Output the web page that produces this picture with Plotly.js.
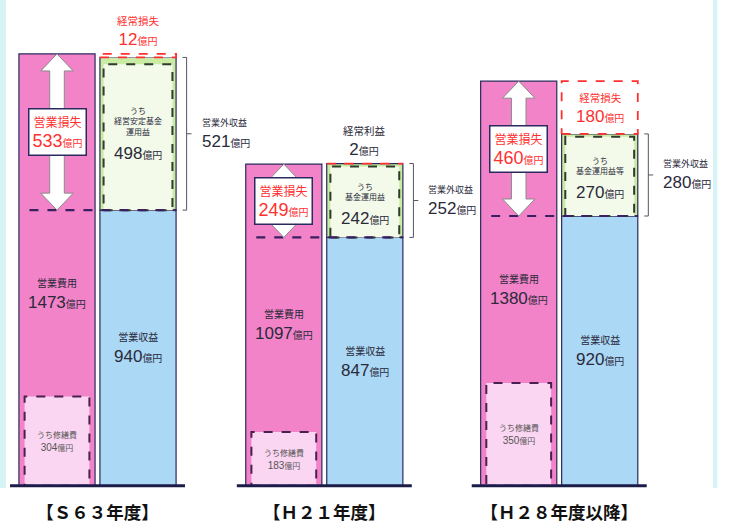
<!DOCTYPE html>
<html>
<head>
<meta charset="utf-8">
<script src="https://cdn.plot.ly/plotly-3.0.1.min.js"></script>
<style>html,body{margin:0;padding:0;background:#fff;}#chart{width:729px;height:524px;}</style>
</head>
<body>
<div id="chart"></div>
<script>
// ---- data (億円) ----
const categories = ['【Ｓ６３年度】', '【Ｈ２１年度】', '【Ｈ２８年度以降】'];
const opExpense = [1473, 1097, 1380];      // 営業費用
const repairCost = [304, 183, 350];        // うち修繕費
const opRevenue = [940, 847, 920];         // 営業収益
const nonOpIncome = [521, 252, 280];       // 営業外収益
const fundIncome = [498, 242, 270];        // うち基金運用益
const fundLabels = ['うち<br>経営安定基金<br>運用益', 'うち<br>基金運用益', 'うち<br>基金運用益等'];
const opLoss = [533, 249, 460];            // 営業損失
const ordinaryResult = [-12, 2, -180];     // 経常損益

// ---- layout helpers ----
const groupStart = [0, 2.8, 5.7];
const pinkX = groupStart.map(g => g);
const blueX = groupStart.map(g => g + 1);
const centers = groupStart.map(g => g + 0.5);
const BW = 0.94;

const C = {
  pink: '#f283c8', lpink: '#fbd6f2', blue: '#aad8f5', green: '#c9eba4',
  fund: '#f4faea', navy: '#2a2a5e', red: '#ff3030', text: '#2a2a3a'
};
const NUM = "font-family:'Liberation Sans Narrow','Liberation Sans',sans-serif;";
function num(v, size, small) {
  return `<span style="${NUM}font-size:${size}px">${v}</span><span style="font-size:${small}px">億円</span>`;
}
function sm(t, size) { return `<span style="font-size:${size}px">${t}</span>`; }
function rect(x0, x1, y0, y1) {
  return {x: [x0, x1, x1, x0, x0, null], y: [y0, y0, y1, y1, y0, null]};
}
function merge(list) {
  return {x: [].concat(...list.map(r => r.x)), y: [].concat(...list.map(r => r.y))};
}

const traces = [];
const outline = {color: C.navy, width: 1.2};
traces.push({type: 'bar', x: pinkX, y: opExpense, width: BW, marker: {color: C.pink, line: outline}, hoverinfo: 'skip'});
traces.push({type: 'bar', x: pinkX, y: repairCost, width: 0.8, marker: {color: C.lpink, line: {width: 0}}, hoverinfo: 'skip'});
traces.push({type: 'bar', x: blueX, y: opRevenue, width: BW, marker: {color: C.blue, line: outline}, hoverinfo: 'skip'});
traces.push({type: 'bar', x: blueX, y: nonOpIncome, base: opRevenue, width: BW, marker: {color: C.green, line: outline}, hoverinfo: 'skip'});
traces.push({type: 'bar', x: blueX, y: fundIncome, base: opRevenue, width: 0.85, marker: {color: C.fund, line: {width: 0}}, hoverinfo: 'skip'});

// ordinary loss white boxes
const topLevel = opRevenue.map((r, i) => r + nonOpIncome[i]);
const lossIdx = ordinaryResult.map((v, i) => v < 0 ? i : -1).filter(i => i >= 0);
traces.push({type: 'bar', x: lossIdx.map(i => blueX[i]), y: lossIdx.map(i => -ordinaryResult[i]),
  base: lossIdx.map(i => topLevel[i]), width: BW, marker: {color: '#ffffff', line: {width: 0}}, hoverinfo: 'skip'});

// dashed outlines
const repairR = merge(repairCost.map((v, i) => rect(pinkX[i] - 0.4, pinkX[i] + 0.4, 0, v)));
traces.push({type: 'scatter', mode: 'lines', x: repairR.x, y: repairR.y, line: {color: '#4a2050', width: 2, dash: 'dash'}, hoverinfo: 'skip'});
const fundR = merge(fundIncome.map((v, i) => rect(blueX[i] - 0.425, blueX[i] + 0.425, opRevenue[i], opRevenue[i] + v)));
traces.push({type: 'scatter', mode: 'lines', x: fundR.x, y: fundR.y, line: {color: '#2d3d2a', width: 2, dash: 'dash'}, hoverinfo: 'skip'});
const ordR = merge(ordinaryResult.map((v, i) => rect(blueX[i] - BW / 2, blueX[i] + BW / 2, topLevel[i], topLevel[i] - v)));
traces.push({type: 'scatter', mode: 'lines', x: ordR.x, y: ordR.y, line: {color: C.red, width: 1.8, dash: 'dash'}, hoverinfo: 'skip'});

// revenue level dashed line
const revL = merge(opRevenue.map((v, i) => ({x: [pinkX[i] - 0.34, blueX[i] + 0.47, null], y: [v, v, null]})));
traces.push({type: 'scatter', mode: 'lines', x: revL.x, y: revL.y, line: {color: '#3a2060', width: 2.2, dash: 'dash'}, hoverinfo: 'skip'});

// operating loss double arrows
const HH = 58, SW = 0.09, HW = 0.2;
const arr = merge(opExpense.map((e, i) => {
  const cx = pinkX[i], y1 = opRevenue[i], y2 = e;
  return {
    x: [cx - SW, cx - HW, cx, cx + HW, cx + SW, cx + SW, cx + HW, cx, cx - HW, cx - SW, cx - SW, null],
    y: [y1 + HH, y1 + HH, y1, y1 + HH, y1 + HH, y2 - HH, y2 - HH, y2, y2 - HH, y2 - HH, y1 + HH, null]
  };
}));
traces.push({type: 'scatter', mode: 'lines', x: arr.x, y: arr.y, fill: 'toself', fillcolor: '#ffffff', line: {color: '#8a8a8a', width: 1}, hoverinfo: 'skip'});

// brackets for 営業外収益
const br = merge(nonOpIncome.map((v, i) => {
  const bx = blueX[i] + 0.6, y0 = opRevenue[i], y1 = y0 + v, m = (y0 + y1) / 2;
  return {x: [bx - 0.05, bx, bx, bx - 0.05, null, bx, bx + 0.06, null], y: [y0, y0, y1, y1, null, m, m, null]};
}));
traces.push({type: 'scatter', mode: 'lines', x: br.x, y: br.y, line: {color: '#555560', width: 1}, hoverinfo: 'skip'});

// baselines
const base = merge(groupStart.map(g => ({x: [g - 0.58, g + 1.58, null], y: [0, 0, null]})));
traces.push({type: 'scatter', mode: 'lines', x: base.x, y: base.y, line: {color: '#1c1c4a', width: 3}, hoverinfo: 'skip'});

// ---- annotations ----
const ann = [];
const JP = 'Noto Sans CJK JP';
opExpense.forEach((v, i) => {
  ann.push({x: pinkX[i], y: (opRevenue[i] + repairCost[i]) / 2 + 35, text: `${sm('営業費用', 10)}<br>${num(v, 17, 10)}`,
    showarrow: false, font: {family: JP, size: 16, color: C.text}});
  ann.push({x: pinkX[i], y: repairCost[i] / 2, text: `${sm('うち修繕費', 8)}<br>${num(repairCost[i], 10, 8)}`,
    showarrow: false, font: {family: JP, size: 10, color: '#555'}});
  ann.push({x: pinkX[i], y: (v + opRevenue[i]) / 2, text: `${sm('営業損失', 12)}<br>${num(opLoss[i], 18, 10)}`,
    showarrow: false, font: {family: JP, size: 16, color: C.red}, bgcolor: '#ffffff',
    bordercolor: C.navy, borderwidth: 1.5, borderpad: 3});
});
opRevenue.forEach((v, i) => {
  ann.push({x: blueX[i], y: v / 2, text: `${sm('営業収益', 10)}<br>${num(v, 17, 10)}`,
    showarrow: false, font: {family: JP, size: 16, color: C.text}});
  const fc = v + fundIncome[i] / 2;
  ann.push({x: blueX[i], y: fc, yanchor: 'bottom', yshift: -2, text: fundLabels[i],
    showarrow: false, font: {family: JP, size: 8, color: C.text}});
  ann.push({x: blueX[i], y: fc, yanchor: 'top', yshift: -5, text: num(fundIncome[i], 17, 10),
    showarrow: false, font: {family: JP, size: 16, color: C.text}});
  ann.push({x: blueX[i] + 0.76, y: v + nonOpIncome[i] / 2, xanchor: 'left', align: 'left',
    text: `${sm('営業外収益', 9)}<br>${num(nonOpIncome[i], 17, 10)}`,
    showarrow: false, font: {family: JP, size: 16, color: C.text}});
  const o = ordinaryResult[i];
  const label = sm(o < 0 ? '経常損失' : '経常利益', 10.5) + '<br>' + num(Math.abs(o), 17, 10);
  const col = o < 0 ? C.red : C.text;
  if (Math.abs(o) > 60) {
    ann.push({x: blueX[i], y: topLevel[i] - o / 2, text: label, showarrow: false, font: {family: JP, size: 15, color: col}});
  } else {
    ann.push({x: blueX[i], y: Math.max(topLevel[i], topLevel[i] - o), yanchor: 'bottom', yshift: 3, text: label,
      showarrow: false, font: {family: JP, size: 15, color: col}});
  }
});

const layout = {
  width: 729, height: 524,
  margin: {l: 0, r: 0, t: 46, b: 36},
  paper_bgcolor: '#ffffff', plot_bgcolor: 'rgba(0,0,0,0)',
  showlegend: false, barmode: 'overlay',
  xaxis: {range: [-0.7037, 8.296], tickmode: 'array', tickvals: centers, ticktext: categories,
    tickfont: {family: JP, size: 17.5, color: '#111', weight: 'bold'}, ticks: '', ticklabelstandoff: 12,
    showgrid: false, zeroline: false, showline: false, fixedrange: true},
  yaxis: {range: [-8, 1500], visible: false, showgrid: false, zeroline: false, fixedrange: true},
  annotations: ann,
  shapes: [
    {type: 'rect', xref: 'paper', yref: 'paper', x0: 0, x1: 0.008, y0: 0, y1: 1.2, fillcolor: '#d6f3f6', line: {width: 0}, layer: 'below'},
    {type: 'rect', xref: 'paper', yref: 'paper', x0: 0.978, x1: 0.984, y0: 0, y1: 1.2, fillcolor: '#d6f3f6', line: {width: 0}, layer: 'below'}
  ]
};
Plotly.newPlot('chart', traces, layout, {staticPlot: true, displayModeBar: false});
</script>
</body>
</html>
